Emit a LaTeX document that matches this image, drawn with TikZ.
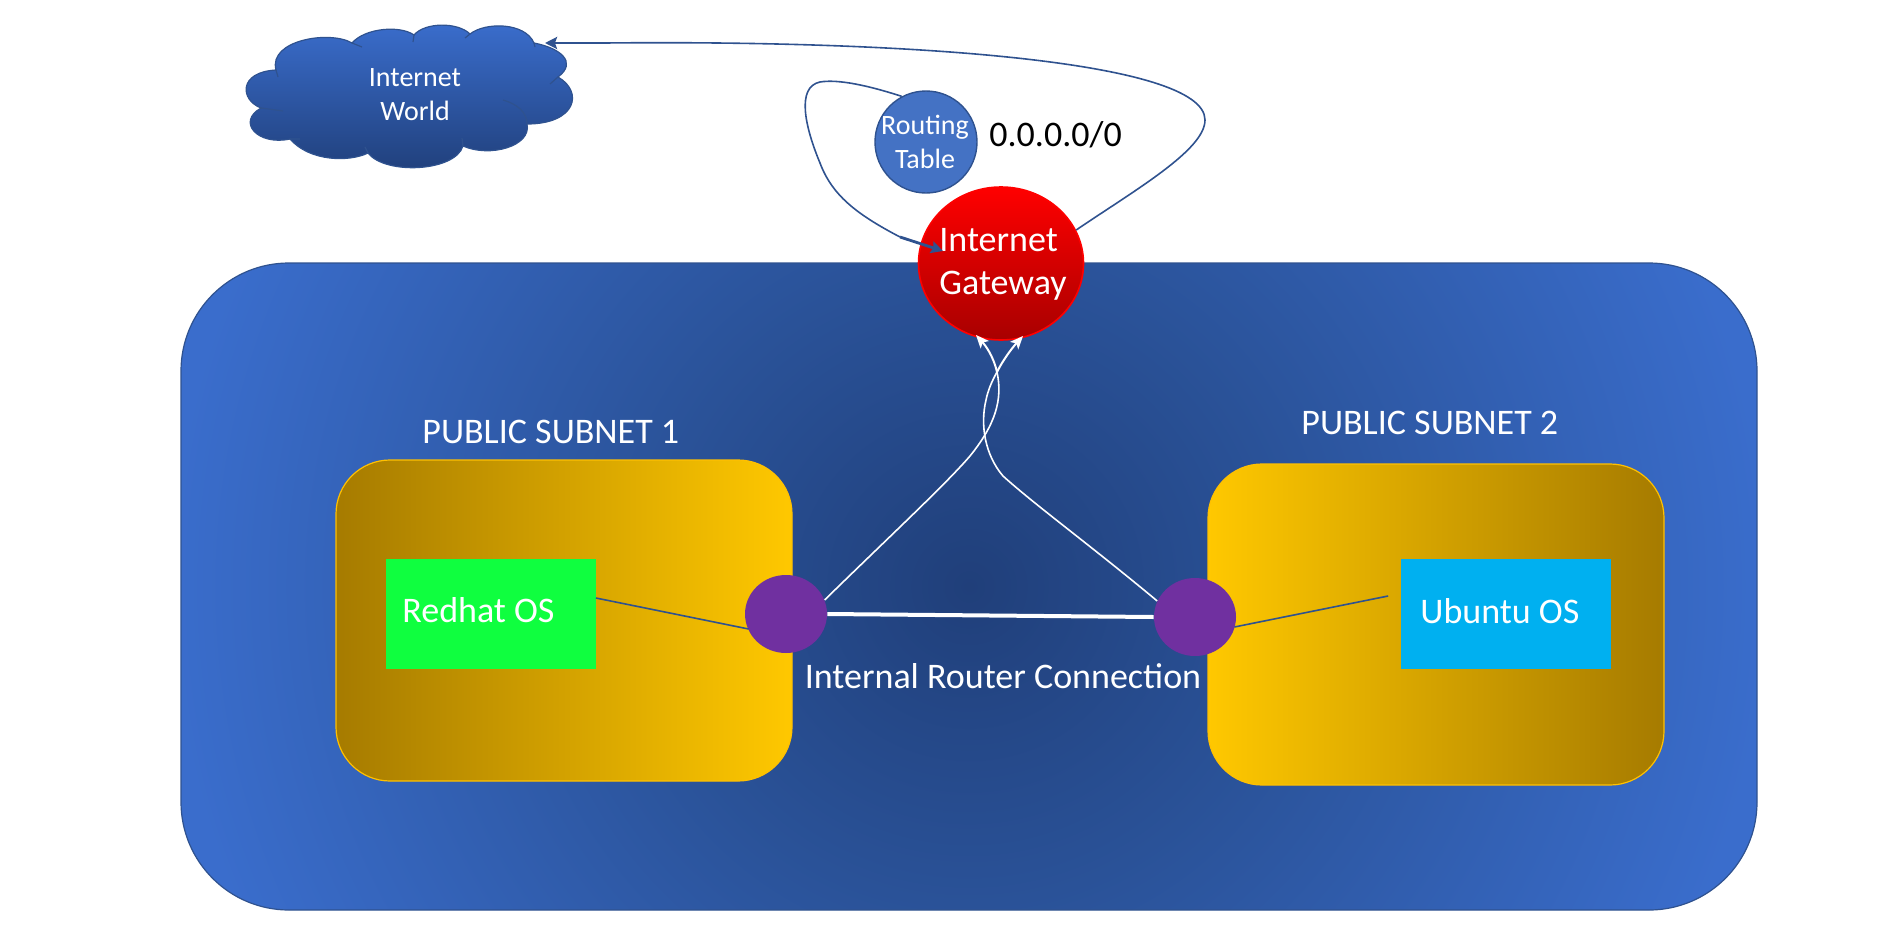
\documentclass[tikz,border=0pt]{standalone}
\usepackage{fontspec}
\setmainfont{Carlito}
\usetikzlibrary{shapes.geometric,arrows.meta,calc}
\definecolor{edgeblue}{HTML}{2F528F}
\definecolor{vpcin}{HTML}{203F7A}
\definecolor{vpcmid}{HTML}{2A5298}
\definecolor{vpcout}{HTML}{3A6DCC}
\definecolor{goldlite}{HTML}{FFC800}
\definecolor{goldmid}{HTML}{F2B600}
\definecolor{golddark}{HTML}{A67B00}
\definecolor{goldline}{HTML}{FFC000}
\definecolor{gwdark}{HTML}{A80000}
\definecolor{rhgreen}{HTML}{0FFF3F}
\definecolor{ubblue}{HTML}{00B0F0}
\definecolor{rtfill}{HTML}{4472C4}
\definecolor{routerpurple}{HTML}{7030A0}
\pgfdeclareradialshading{vpcshade}{\pgfpointorigin}{color(0bp)=(vpcin); color(9bp)=(vpcmid); color(22.7bp)=(vpcout); color(50bp)=(vpcout)}
\tikzset{
  lbl/.style={text=white,inner sep=0pt,font=\fontsize{18}{20}\selectfont,align=center},
  subnetbox/.style={minimum width=228pt,minimum height=160.5pt,rounded corners=27pt,draw=goldline,line width=0.6pt,inner sep=0pt},
  osbox/.style={minimum width=105pt,minimum height=55pt,inner sep=0pt},
  router/.style={ellipse,fill=routerpurple,minimum width=41pt,minimum height=39pt,inner sep=0pt},
  blueline/.style={draw=edgeblue,line width=0.8pt},
  whiteline/.style={draw=white,line width=0.8pt},
  whitearrow/.style={draw=white,line width=1pt,-{Stealth[length=6.5pt,width=5.5pt,inset=1.5pt]}},
  bluearrow/.style={draw=edgeblue,line width=1.4pt,-{Stealth[length=6pt,width=6pt,inset=1pt]}},
}
\begin{document}
\begin{tikzpicture}[x=0.5pt,y=-0.5pt]
\useasboundingbox (0,0) rectangle (1890,948);
% VPC
\node[minimum width=788pt,minimum height=323.5pt,rounded corners=54pt,draw=edgeblue,line width=0.6pt,inner sep=0pt,
  path picture={\shade[shading=vpcshade] (path picture bounding box.center) circle (440pt);}] (vpc) at (969,586.5) {};
% Subnets
\node[subnetbox,left color=golddark,middle color=goldmid,right color=goldlite] (sub1) at (564,620.5) {};
\node[subnetbox,left color=goldlite,middle color=goldmid,right color=golddark] (sub2) at (1436,624.5) {};
\node[lbl,anchor=west] (sub1lbl) at (422,432) {PUBLIC SUBNET 1};
\node[lbl,anchor=west] (sub2lbl) at (1301,423) {PUBLIC SUBNET 2};
% OS boxes
\node[osbox,fill=rhgreen] (redhat) at (490.5,614) {};
\node[osbox,fill=ubblue] (ubuntu) at (1505.5,614) {};
\node[lbl,anchor=west] (rhlbl) at (402,610) {Redhat OS};
\node[lbl,anchor=west] (ublbl) at (1420,611) {Ubuntu OS};
% Routers
\node[router] (rl) at (786,614) {};
\node[router] (rr) at (1195,617) {};
\node[lbl] (conn) at (1003,676) {Internal Router Connection};
% Gateway
\node[ellipse,draw=red,line width=0.8pt,top color=red,middle color=red,bottom color=gwdark,minimum width=82.5pt,minimum height=76.5pt,inner sep=0pt] (gw) at (1001,263.5) {};
\node[lbl,anchor=west,align=left,font=\fontsize{18}{21.5}\selectfont] (gwlbl) at (939,264) {Internet\\Gateway};
% Routing table
\node[ellipse,draw=edgeblue,line width=0.7pt,fill=rtfill,minimum width=51pt,minimum height=51pt,inner sep=0pt] (rt) at (926,142) {};
\node[lbl,font=\fontsize{14}{17}\selectfont] (rtlbl) at (925,141.5) {Routing\\Table};
\node[text=black,inner sep=0pt,anchor=west,font=\fontsize{18}{20}\selectfont] (cidr) at (989,135) {0.0.0.0/0};
% Cloud
\shade[top color=vpcout,bottom color=vpcin,draw=edgeblue,line width=0.6pt]
 (276,70) .. controls (268,40) and (330,30) .. (352,43)
 .. controls (365,28) and (400,25) .. (414,35)
 .. controls (425,22) and (458,22) .. (470,34)
 .. controls (485,22) and (525,22) .. (534,43)
 .. controls (560,48) and (578,62) .. (558,77)
 .. controls (584,92) and (576,124) .. (527,124)
 .. controls (532,146) and (490,158) .. (463,146)
 .. controls (455,172) and (385,175) .. (368,153)
 .. controls (350,162) and (310,162) .. (290,139)
 .. controls (258,146) and (236,122) .. (261,108)
 .. controls (240,100) and (238,72) .. (276,70) -- cycle;
\draw[edgeblue,line width=0.6pt]
 (276,70) -- (278,77)
 (352,43) -- (362,47)
 (414,35) -- (413,42)
 (470,34) -- (465,38)
 (534,43) -- (535,47)
 (558,77) -- (550,84)
 (527,124) .. controls (527,112) and (517,104) .. (503,100)
 (463,146) -- (462,138)
 (368,153) -- (365,147)
 (290,139) -- (300,139)
 (261,108) -- (283,111);
\node[lbl,font=\fontsize{14}{17}\selectfont] (cloud) at (415,95) {Internet\\World};
\coordinate (cloudtip) at (545,43);
\coordinate (cloudmid) at (605,43);
\coordinate (gwthick) at (900,237);
\coordinate (gwtip) at (943,251);
\coordinate (crossing) at (997,372);
\coordinate (lefttip) at (976,335);
\coordinate (righttip) at (1023,336);
% Connectors
\draw[blueline] (gw.24) .. controls (1135,190) and (1205,150) .. (1205,120) .. controls (1205,60) and (900,40) .. (cloudmid);
\draw[bluearrow] (cloudmid) -- (cloudtip);
\draw[blueline] (rt.118) .. controls +(-34,-11) and (838,79) .. (820,82) .. controls (796,87) and (805,127) .. (820,163) .. controls (832,195) and (856,214) .. (gwthick);
\draw[bluearrow] (gwthick) -- (gwtip);
\draw[blueline] ([yshift=8pt]redhat.east) -- ([yshift=-7.5pt,xshift=2pt]rl.west);
\draw[blueline] ([yshift=-5pt,xshift=-1pt]rr.east) -- ([yshift=9pt,xshift=-6pt]ubuntu.west);
\draw[draw=white,line width=2pt] (rl.east) -- (rr.west);
\draw[whiteline] (rl.20) .. controls (890,536) and (945,485) .. (970,456) .. controls (995,425) and (1003,400) .. (crossing);
\draw[whitearrow] (crossing) .. controls (993,355) and (985,345) .. (lefttip);
\draw[whiteline] (rr.157) .. controls (1090,545) and (1035,505) .. (1003,476) .. controls (985,455) and (980,425) .. (986,400) .. controls (988,390) and (992,381) .. (crossing);
\draw[whitearrow] (crossing) .. controls (1003,360) and (1012,348) .. (righttip);
\end{tikzpicture}
\end{document}
